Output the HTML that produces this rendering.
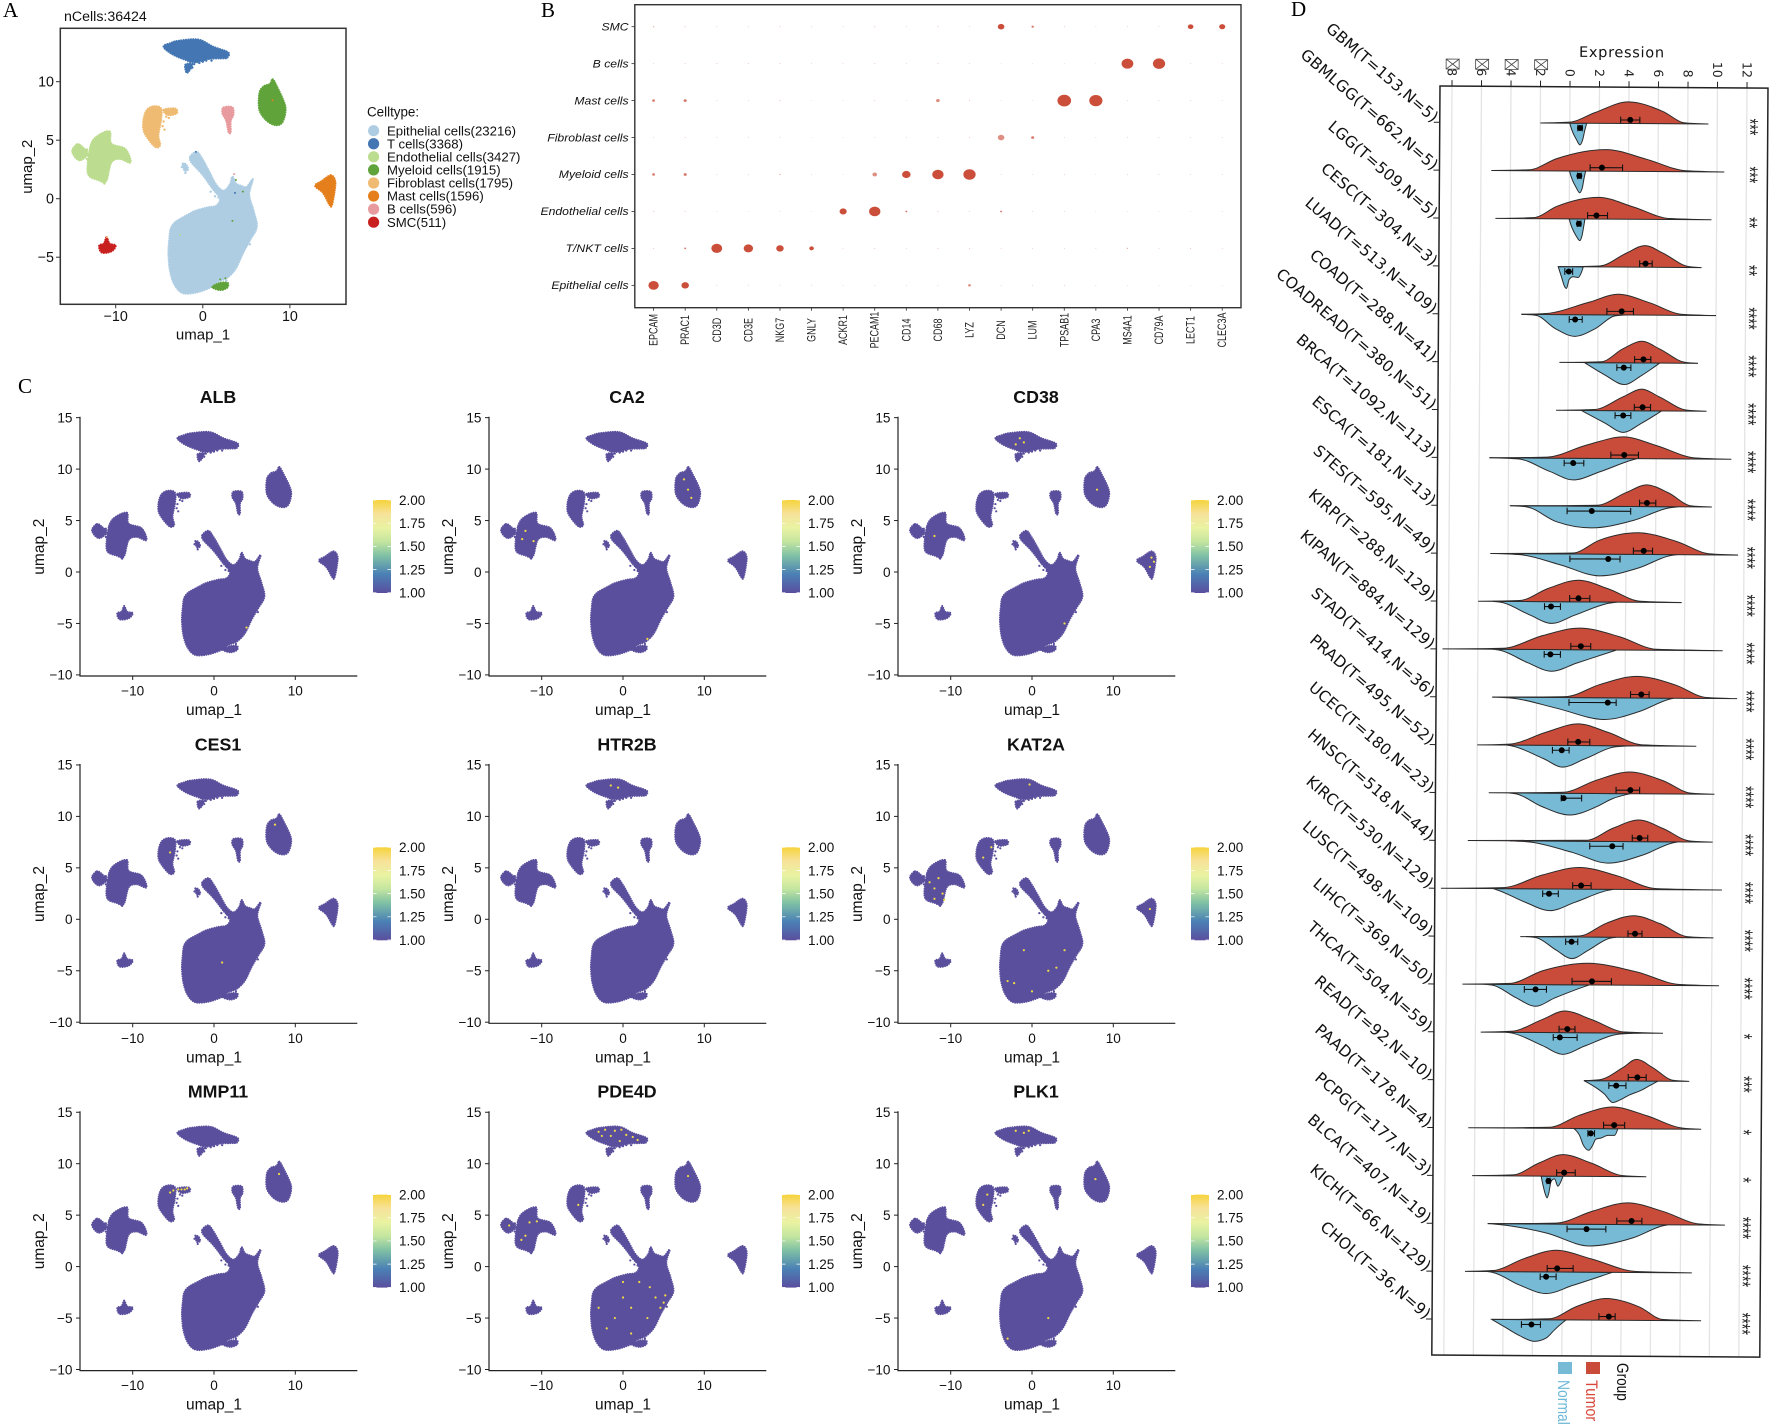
<!DOCTYPE html>
<html lang="en">
<head>
<meta charset="utf-8">
<title>Single-cell UMAP, marker dot plot and pan-cancer expression figure</title>
<style>
html,body{margin:0;padding:0;background:#fff}
svg{display:block;font-family:"Liberation Sans",sans-serif}
.serif{font-family:"Liberation Serif",serif}
.dj{font-family:"DejaVu Sans",sans-serif}
</style>
</head>
<body>
<svg id="fig" xmlns="http://www.w3.org/2000/svg" width="1772" height="1428" viewBox="0 0 1772 1428">
<defs>
<linearGradient id="cbar" x1="0" y1="1" x2="0" y2="0">
<stop offset="0" stop-color="#5a4e9e"/><stop offset=".2" stop-color="#4a80b5"/><stop offset=".4" stop-color="#7fc0a5"/><stop offset=".55" stop-color="#c3e5a0"/><stop offset=".7" stop-color="#e9f3a2"/><stop offset=".85" stop-color="#f7e29a"/><stop offset="1" stop-color="#f6d33c"/>
</linearGradient>
</defs>
<rect x="0" y="0" width="1772" height="1428" fill="#fff"/>
<text class="serif" x="3" y="17" font-size="21">A</text>
<text class="serif" x="541" y="17" font-size="21">B</text>
<text class="serif" x="18" y="393" font-size="21">C</text>
<text class="serif" x="1291" y="16" font-size="21">D</text>
<g id="panelA"></g>
<g id="panelB"></g>
<g id="panelC"></g>
<g id="panelD" transform="translate(1440 86) rotate(0.37)"></g>
<g id="legendD">
<text transform="translate(1617 1363) rotate(90) scale(.8 1)" font-size="17" fill="#111">Group</text>
<rect x="1586" y="1362" width="14" height="12" fill="#c94c3a"/>
<text transform="translate(1586 1380) rotate(90) scale(.85 1)" font-size="17" fill="#d9473a">Tumor</text>
<rect x="1558" y="1362" width="14" height="12" fill="#77bad6"/>
<text transform="translate(1558 1380) rotate(90) scale(.82 1)" font-size="17" fill="#6db8d8">Normal</text>
</g>
</svg>
<script>
/* ---------- UMAP cluster outlines (umap_1, umap_2) ---------- */
const epithelialOutline=[[-1.43,3.6],[-0.7,4.0],[-0.08,3.43],[0.74,2.3],[1.56,1.17],[2.4,0.68],[3.1,1.2],[3.4,1.88],[3.8,1.3],[4.4,1.1],[5.04,1.0],[5.74,1.65],[5.33,0.36],[5.86,-1.1],[6.2,-2.4],[5.45,-3.5],[4.6,-4.66],[3.8,-5.95],[2.8,-6.75],[1.7,-7.1],[1.1,-7.5],[0,-7.85],[-1,-8.05],[-2.1,-8.1],[-2.8,-7.8],[-3.4,-7.1],[-3.8,-6],[-3.95,-4.66],[-3.85,-3.5],[-3.7,-2.6],[-3.3,-2.1],[-2.75,-1.8],[-1.8,-1.4],[-0.9,-1.05],[0.5,-0.75],[1.56,-0.6],[1.97,0.03],[1.15,0.84],[-0.08,2.1],[-1.3,3.1]];
const epithelialSatellite=[[-2.3,3.0],[-1.9,2.9],[-1.7,2.5],[-2.1,2.4]];
const tCellOutline=[[-4.5,13.0],[-3.7,13.3],[-2.75,13.5],[-0.5,13.6],[1.15,13.0],[2.9,12.5],[2.8,12.05],[2.4,12.0],[0.74,11.95],[-0.9,11.65],[-2.1,11.9],[-3.6,12.4]];
const tCellTail=[[-2.0,11.45],[-1.2,11.5],[-1.6,10.9],[-1.9,10.8]];
const myeloidOutline=[[8.03,10.2],[8.5,9.6],[9.3,8.3],[9.5,7.5],[9.1,6.5],[8.3,6.3],[7.3,6.7],[6.5,7.6],[6.5,9.0],[7.0,9.6],[7.7,9.8]];
const myeloidCrescent=[[1.1,-7.55],[2.0,-7.2],[2.85,-7.2],[2.8,-7.6],[2.0,-7.8]];
const fibroblastOutline=[[-5.6,7.9],[-4.8,7.7],[-4.8,6.7],[-5.1,5.4],[-4.9,4.6],[-5.4,4.4],[-6.2,5.05],[-6.8,5.85],[-6.8,6.8],[-6.4,7.6]];
const fibroblastArm=[[-4.5,7.6],[-3.15,7.7],[-3.0,7.3],[-4,7.15]];
const bCellOutline=[[2.4,7.8],[3.4,7.8],[3.5,7.15],[3.2,6.65],[3.2,5.7],[2.95,5.7],[2.7,6.65],[2.25,7.3]];
const endothelialOutline=[[-10.7,5.75],[-10.5,4.7],[-8.9,4.25],[-8.3,3.1],[-9.5,3.4],[-10.5,3.1],[-11.1,1.5],[-12,1.6],[-13.1,2],[-13.2,3.1],[-12.8,4.7],[-12,5.4]];
const endothelialLobe=[[-14.4,4.66],[-13.8,4.4],[-13.2,3.85],[-14,3.3],[-14.6,3.5],[-15,4.1]];
const mastOutline=[[14.7,2],[15.2,1.5],[15.1,.5],[14.8,-.6],[14.5,-.45],[13.8,.5],[12.9,1.1],[13.65,1.5]];
const smcOutline=[[-11.05,-3.3],[-10.7,-3.85],[-10,-4],[-10.5,-4.5],[-11.6,-4.6],[-11.9,-4],[-11.35,-3.85]];

const clusterNames=['epithelial','epithelial-satellite','t-cells','t-cells-tail','myeloid','myeloid-crescent','fibroblast','fibroblast-arm','b-cells','endothelial','endothelial-lobe','mast','smc'];
const clusterShapes=[epithelialOutline,epithelialSatellite,tCellOutline,tCellTail,myeloidOutline,myeloidCrescent,fibroblastOutline,fibroblastArm,bCellOutline,endothelialOutline,endothelialLobe,mastOutline,smcOutline];
const clusterColors=['#aecde3','#aecde3','#4376b3','#4376b3','#5fa33a','#5fa33a','#efbb72','#efbb72','#e89b9e','#bcdc8f','#bcdc8f','#e47f1c','#c8201f'];

const strayEpithelial=[[1.2,.9],[1.6,.5],[1.9,.7],[1.4,.2],[2.2,.4],[.9,.6],[1.8,.1],[-2.4,2.7],[-2,2.2],[2.7,-7],[5.4,-3.9]];
const strayEndothelial=[[-13.3,4.2],[-13.1,3.7],[-13.3,3.4],[-12.9,4.4],[-11.3,1.3],[-9.8,3.7]];
const strayFibroblast=[[-4.6,6.2],[-4.4,5.9],[-4.5,6.6],[-4.2,7.0],[-3.9,6.9]];
const strayTCells=[[-1.0,11.5],[0,11.7],[-0.4,11.6],[0.4,11.8],[-1.2,11.2],[1,11.8]];
const strayGroups=[strayEpithelial,strayEndothelial,strayFibroblast,strayTCells];
const strayColors=['#aecde3','#bcdc8f','#efbb72','#4376b3'];

const mixedCells=[[3.6,2.1],[3.8,1.6],[3.7,0.5],[4.6,.6],[3.4,-1.9],[-2.6,-3.1],[-0.8,4],[8,8.4],[-11,-3.3],[2,-6.9],[2.6,-6.8]];
const mixedColors=['#e89b9e','#5fa33a','#4376b3','#5fa33a','#5fa33a','#bcdc8f','#4376b3','#e47f1c','#efbb72','#5fa33a','#5fa33a'];

const legendTypes=['Epithelial cells(23216)','T cells(3368)','Endothelial cells(3427)','Myeloid cells(1915)','Fibroblast cells(1795)','Mast cells(1596)','B cells(596)','SMC(511)'];
const legendColors=['#aecde3','#4376b3','#bcdc8f','#5fa33a','#efbb72','#e47f1c','#e89b9e','#c8201f'];
const umapATicksX=[-10,0,10];
const umapATicksY=[-5,0,5,10];

/* ---------- Panel B dot plot ---------- */
const dotGenes=['EPCAM','PRAC1','CD3D','CD3E','NKG7','GNLY','ACKR1','PECAM1','CD14','CD68','LYZ','DCN','LUM','TPSAB1','CPA3','MS4A1','CD79A','LECT1','CLEC3A'];
const dotCellTypes=['SMC','B cells','Mast cells','Fibroblast cells','Myeloid cells','Endothelial cells','T/NKT cells','Epithelial cells'];
const dotSMC=[1,.5,.4,.4,.5,.4,.4,.5,.4,.5,.4,22,3,.5,.4,.4,.4,16,19];
const dotB=[.4,.5,.5,.5,.5,.4,.4,.5,.4,.5,.4,.3,.3,.3,.3,71,77,.4,.4];
const dotMast=[4,5,.4,.4,.5,.3,.3,.5,.3,7,.5,.3,.3,95,89,.4,.4,.4,.4];
const dotFibroblast=[.4,.5,.4,.4,.4,.3,.3,.4,.4,.4,.5,22,5,.4,.4,.4,.4,.4,.4];
const dotMyeloid=[4,5,.4,.4,1,.3,.3,11,37,65,77,.4,.3,.5,.3,.4,.4,.4,.4];
const dotEndothelial=[.5,.5,.3,.3,.4,.3,26,65,2,.5,.4,2,.4,.4,.3,.3,.3,.3,.4];
const dotTNKT=[.5,2,60,45,29,11,.4,.5,.4,.5,.5,.4,.4,.4,.4,1,.4,.5,.4];
const dotEpithelial=[55,29,.4,.4,.4,.4,.4,.4,.4,.4,4,.4,.4,.5,.4,.3,.3,.3,.3];
const dotMatrix=[dotSMC,dotB,dotMast,dotFibroblast,dotMyeloid,dotEndothelial,dotTNKT,dotEpithelial];
const paleDotCells=['Fibroblast cells','Myeloid cells','Mast cells','Epithelial cells'];
const paleDotGenes=['DCN','PECAM1','CD68','LYZ'];

/* ---------- Panel C gene panels ---------- */
const geneNames=['ALB','CA2','CD38','CES1','HTR2B','KAT2A','MMP11','PDE4D','PLK1'];
const specksALB=[[4,-5.4]];
const specksCA2=[[-11,3],[-12,4],[-12.4,3.2],[8,8],[7.5,9],[3,-6.5],[8.4,7.2]];
const specksCD38=[[-1.5,13],[-1,12.6],[-2,12.4],[15,1],[14.5,0.5],[4,-5],[8,8],[-12,3.5],[14.7,1.4]];
const specksCES1=[[1,-4.2],[7.5,9.2],[-5.4,6.5]];
const specksHTR2B=[[-1.5,13],[-0.6,12.8]];
const specksKAT2A=[[-12,3],[-11,2.5],[-11.5,4],[-12,2],[-10.8,1.9],[-12.6,3.6],[-5,7],[-6,6],[-3,-6],[2,-5],[3,-4.7],[0,-7],[-1,-3],[14.5,1],[-0.3,13.1],[-2.2,-6.2],[4,-3]];
const specksMMP11=[[-5,7.4],[-4.4,7.5],[-4,7.5],[-3.6,7.5],[-3.3,7.6],[-5.4,7.2],[8,9]];
const specksPDE4D=[[-3,13.1],[-2.2,13.3],[-1.5,12.7],[-1,13.2],[-0.2,13.3],[0.4,12.8],[1.2,12.6],[-2.6,12.7],[-0.4,12.2],[1.8,12.3],[-12,3],[-11.5,4.3],[-12.5,2.6],[-14,4],[-10.6,4.4],[-5.5,6],[8,8.8],[3.3,-2],[4,-3],[5,-3.5],[5.2,-2.8],[2,-1.5],[0,-3],[-1,-5],[-2,-6],[1,-6.5],[3,-5],[4.6,-4],[1,-4],[-3,-4],[0,-1.5]];
const specksPLK1=[[-1,13],[-2,13.2],[-0.4,13.2],[-6,6],[-5.5,7],[-3,-7],[2,-5],[7.8,8.5]];
const geneSpecks=[specksALB,specksCA2,specksCD38,specksCES1,specksHTR2B,specksKAT2A,specksMMP11,specksPDE4D,specksPLK1];
const umapCTicksX=[-10,0,10];
const umapCTicksY=[-10,-5,0,5,10,15];
const colorbarTicks=[1,1.25,1.5,1.75,2];

/* ---------- Panel D split violins ---------- */
const cancerLabels=['GBM(T=153,N=5)','GBMLGG(T=662,N=5)','LGG(T=509,N=5)','CESC(T=304,N=3)','LUAD(T=513,N=109)','COAD(T=288,N=41)','COADREAD(T=380,N=51)','BRCA(T=1092,N=113)','ESCA(T=181,N=13)','STES(T=595,N=49)','KIRP(T=288,N=129)','KIPAN(T=884,N=129)','STAD(T=414,N=36)','PRAD(T=495,N=52)','UCEC(T=180,N=23)','HNSC(T=518,N=44)','KIRC(T=530,N=129)','LUSC(T=498,N=109)','LIHC(T=369,N=50)','THCA(T=504,N=59)','READ(T=92,N=10)','PAAD(T=178,N=4)','PCPG(T=177,N=3)','BLCA(T=407,N=19)','KICH(T=66,N=129)','CHOL(T=36,N=9)'];
const significance=['***','***','**','**','****','****','****','****','****','****','****','****','****','****','****','****','****','****','****','*','***','*','*','****','****','****'];
const expressionTicks=[-8,-6,-4,-2,0,2,4,6,8,10,12];
const tumorX=[
[-2,0,1.7,3.97,6.3,7.8,9.4],[-5.3,-2.7,-.87,2.5,5.2,7.9,10.5],[-5,-2.4,-.85,2,4.35,6.8,9.65],[-.7,2.1,3.9,5.15,6.4,8.1,9],
[-3.2,-1.5,1.35,3.37,5.5,7.7,10],[-.6,2.25,3.7,5,6.2,7.9,8.8],[-.8,1.8,3.75,5,6.2,8.05,9.4],[-5.3,-1.4,1.3,3.8,6,8.7,11.1],
[-3.9,2,4,5.37,6.84,8.4,9.8],[-5.2,.4,2.2,4.8,7.4,9.7,11.6],[-6,-3.2,-1.25,.8,2.8,5,7.8],[-8.4,-4.3,-1.6,.9,3.6,6.1,10.6],
[-5,0,2.3,4.8,7.4,9.5,11.6],[-6,-3.8,-1.3,.84,2.87,5.2,8.85],[-5.2,-.16,2.1,4.35,6.6,8.5,10.1],[-6.6,1.43,3.25,5,6.63,8.45,10],
[-8.4,-4.2,-1.5,1,3.6,6.2,10.65],[-3,1,2.84,4.7,6.45,8.37,10.1],[-6.9,-3.7,-1.44,1.6,4.9,7.83,10.5],[-5.64,-3.57,-1.42,.05,1.86,4.12,6.72],
[1.38,2.44,4.02,4.93,6.05,7.41,8.52],[-6.44,-.93,1.1,3.36,5.63,8.1,9.35],[-6.16,-3.4,-1.59,0,1.92,4.06,5.65],[-5.08,-.44,2.05,4.42,6.8,9.28,11],
[-6.6,-4.7,-2.57,-.42,1.95,5,8.78],[-4.76,-.85,.96,3,5.25,6.83,9.43]];
const tumorD=[
[0,3,32,65,37,3,0],[0,3,37,65,37,3,0],[0,3,37,65,37,3,0],[0,3,42,65,42,3,0],
[0,3,37,62,37,3,0],[0,3,42,65,42,3,0],[0,3,42,65,42,3,0],[0,3,40,65,40,3,0],
[0,3,42,65,42,3,0],[0,3,42,65,40,3,0],[0,3,40,65,40,3,0],[0,3,42,65,40,3,0],
[0,3,40,65,40,3,0],[0,3,40,65,40,3,0],[0,3,40,65,40,3,0],[0,3,40,65,40,3,0],
[0,3,42,65,40,3,0],[0,3,42,65,42,3,0],[0,3,42,65,40,3,0],[0,3,40,65,40,3,0],
[0,3,40,65,40,3,0],[0,3,40,65,40,3,0],[0,3,40,65,40,3,0],[0,3,40,65,40,3,0],
[0,3,40,65,40,3,0],[0,3,40,65,40,3,0]];
const normalX=[
[0,.14,.47,.7,.88,1.03,1.15],[0,.14,.47,.7,.88,1,1.1],[0,.14,.47,.73,.88,1,1.07],[-.72,-.5,-.27,-.15,.03,.3,.64,.87,.98],
[-3.2,-2.2,-.9,.43,1.8,3.15,3.9],[1.1,2.5,3.8,5,6.2],[.9,2.5,3.75,5,6.35],[-5.3,-3.35,-1.2,.4,2.2,4.45,4.7],
[-3.85,-2.77,-.73,1.64,4.47,6.95,7.5],[-5,-3.2,-.5,2.2,4.9,7,7.5],[-5,-4.4,-2.5,-1,.55,2.9,3.4],[-5,-4.5,-2.6,-1,.7,3.2,3.4],
[-5,-3.6,-.65,2.6,5,7,7.3],[-4,-3.6,-1.5,-.2,1.3,3.4,4.56],[-3.8,-3.3,-1.6,.3,2.1,3.2,4.1,4.4],[-3.75,-2.4,.53,2.9,5.28,7.3,7.65],
[-4.9,-4.65,-2.7,-1,.67,2.93,3.3],[-2.6,-1.9,-.55,.5,1.6,3.06,3.5],[-5.46,-4.8,-3.25,-1.94,-.65,1.5,1.7],[-3.9,-3.45,-1.42,-.06,1.4,3.8,5.25],
[1.38,2.1,2.78,3.34,3.8,4.47,5.26,5.83,6.4],[.72,1.1,1.37,1.74,2,2.2,2.57,3.03,3.48,3.7],[-1.48,-1.36,-1.18,-1.07,-.95,-.8,-.57,-.34,-.18,0],[-5.08,-4.17,-1.1,1.82,4.76,6.8,7.13],
[-5.17,-4.7,-2.9,-1.1,.71,3.2,3.4],[-4.76,-3.9,-2.88,-1.87,-1.07,-.5,.05,.28]];
const normalD=[
[0,20,50,65,50,20,0],[0,20,50,65,50,20,0],[0,20,50,65,50,20,0],[0,30,60,65,38,30,32,15,0],
[0,3,42,65,42,3,0],[0,37,65,37,0],[0,37,65,37,0],[0,3,40,65,40,3,0],
[0,3,47,65,42,3,0],[0,3,32,65,40,3,0],[0,3,40,65,40,3,0],[0,3,40,65,40,3,0],
[0,3,32,65,40,3,0],[0,3,40,65,40,3,0],[0,3,40,65,40,15,3,0],[0,3,34,65,40,3,0],
[0,3,40,65,40,3,0],[0,3,40,65,40,3,0],[0,3,40,65,40,3,0],[0,3,40,65,40,3,0],
[0,18,40,65,58,42,28,14,0],[0,20,50,65,50,32,28,20,20,0],[0,25,55,65,50,15,8,30,20,0],[0,3,27,65,40,3,0],
[0,3,40,65,40,3,0],[0,22,48,65,55,30,8,0]];
const tumorMean=[4.1,2.2,1.85,5.2,3.6,5.1,5.06,3.84,5.4,5.2,.8,.98,5.1,.84,4.4,5.05,1.1,4.78,1.88,.23,5,3.45,.08,4.67,-.35,3.17];
const tumorLow=[3.45,1.4,1.25,4.8,2.6,4.5,4.5,2.93,4.9,4.5,.2,.3,4.37,.14,3.43,4.55,.53,4.3,.53,-.33,4.38,2.73,-.43,3.67,-1.03,2.5];
const tumorHigh=[4.75,3.6,2.6,5.65,4.4,5.6,5.6,4.8,6,5.8,1.57,1.65,5.63,1.63,5.03,5.6,1.78,5.25,3.2,.75,5.6,4.16,.83,5.37,.73,3.6];
const normalMean=[.7,.67,.66,0,.45,3.77,3.75,.38,1.66,2.8,-1.06,-1.08,2.83,-.27,-.12,3.2,-1.07,.48,-1.94,-.27,3.57,1.87,-.98,1.62,-1.1,-2.07];
const normalLow=[.55,.55,.55,-.27,.05,3.3,3.2,-.23,-.01,.2,-1.5,-1.5,.2,-.9,-.28,1.67,-1.5,.08,-2.7,-.72,3.07,1.67,-1.08,.3,-1.5,-2.75];
const normalHigh=[.85,.8,.8,.26,.93,4.25,4.27,1.1,4.3,3.6,-.42,-.4,3.4,.23,1.1,3.93,-.44,.9,-1.2,.9,4.23,2.12,-.88,2.93,-.42,-1.46];

/* ---------- helpers ---------- */
const NS='http://www.w3.org/2000/svg';
function make(tag,geom,parent){
  const e=document.createElementNS(NS,tag);
  for(const k in geom){e.setAttribute(k,geom[k]);}
  parent.appendChild(e);
  return e;
}
function fmtTick(v){return v<0?'\u2212'+Math.abs(v):String(v);}
function smoothClosed(pts,fx,fy){
  const p=pts.map(q=>[fx(q[0]),fy(q[1])]),n=p.length;
  let d='M'+p[0][0].toFixed(1)+' '+p[0][1].toFixed(1);
  for(let i=0;i<n;i++){
    const a=p[(i-1+n)%n],b=p[i],c=p[(i+1)%n],e=p[(i+2)%n];
    d+='C'+(b[0]+(c[0]-a[0])/6).toFixed(1)+' '+(b[1]+(c[1]-a[1])/6).toFixed(1)+' '+(c[0]-(e[0]-b[0])/6).toFixed(1)+' '+(c[1]-(e[1]-b[1])/6).toFixed(1)+' '+c[0].toFixed(1)+' '+c[1].toFixed(1);
  }
  return d+'Z';
}
function monoPath(xs,ys){
  const n=xs.length,m=[],t=[];
  for(let i=0;i<n-1;i++){m.push((ys[i+1]-ys[i])/(xs[i+1]-xs[i]));}
  for(let i=1;i<n-1;i++){
    const h0=xs[i]-xs[i-1],h1=xs[i+1]-xs[i],s=(h0*m[i]+h1*m[i-1])/(h0+h1);
    t[i]=(Math.sign(m[i-1])+Math.sign(m[i]))*Math.min(Math.abs(m[i-1]),Math.abs(m[i]),.5*Math.abs(s));
  }
  t[0]=(3*m[0]-t[1])/2;
  t[n-1]=(3*m[n-2]-t[n-2])/2;
  let d='M'+xs[0].toFixed(2)+' '+ys[0].toFixed(2);
  for(let i=0;i<n-1;i++){
    const dx=(xs[i+1]-xs[i])/3;
    d+='C'+(xs[i]+dx).toFixed(2)+' '+(ys[i]+dx*t[i]).toFixed(2)+' '+(xs[i+1]-dx).toFixed(2)+' '+(ys[i+1]-dx*t[i+1]).toFixed(2)+' '+xs[i+1].toFixed(2)+' '+ys[i+1].toFixed(2);
  }
  return d+'Z';
}

/* ---------- Panel A ---------- */
(function(){
  const g=document.getElementById('panelA');
  const x=v=>202.8+8.71*v, y=v=>198.7-11.7*v;
  clusterShapes.forEach((shape,i)=>{
    const p=make('path',{d:smoothClosed(shape,x,y),fill:clusterColors[i],stroke:clusterColors[i],'stroke-width':2.2,'stroke-linecap':'round','stroke-dasharray':'0.1 2.3'},g);
    
    
  });
  strayGroups.forEach((grp,k)=>{
    grp.forEach(s=>{
      const c=make('circle',{cx:x(s[0]),cy:y(s[1]),r:1.2,fill:strayColors[k]},g);
      
      
    });
  });
  mixedCells.forEach((s,k)=>{
    const c=make('circle',{cx:x(s[0]),cy:y(s[1]),r:1,fill:mixedColors[k]},g);
    
    
  });
  const frame=make('rect',{x:60.3,y:28.3,width:285.7,height:276,fill:'none',stroke:'#333','stroke-width':1.5},g);
  
  
  umapATicksX.forEach(v=>{
    const l=make('line',{x1:x(v),x2:x(v),y1:304.3,y2:308.3,stroke:'#333','stroke-width':1},g);
    
    
    const t=make('text',{x:x(v),y:321,'text-anchor':'middle','font-size':14.3,fill:'#111'},g);
    t.textContent=fmtTick(v);
    
    
  });
  umapATicksY.forEach(v=>{
    const l=make('line',{x1:56,x2:60.3,y1:y(v),y2:y(v),stroke:'#333','stroke-width':1},g);
    
    
    const t=make('text',{x:54,y:y(v)+5,'text-anchor':'end','font-size':14.3,fill:'#111'},g);
    t.textContent=fmtTick(v);
    
    
  });
  const title=make('text',{x:64,y:21,'font-size':14.2,fill:'#111'},g);
  title.textContent='nCells:36424';
  
  
  const xl=make('text',{x:203,y:339.5,'text-anchor':'middle','font-size':15,fill:'#111'},g);
  xl.textContent='umap_1';
  
  
  const yl=make('text',{transform:'translate(32 166.7) rotate(-90)','text-anchor':'middle','font-size':15,fill:'#111'},g);
  yl.textContent='umap_2';
  
  
  const lt=make('text',{x:367,y:116.5,'font-size':13.4,fill:'#111'},g);
  lt.textContent='Celltype:';
  
  
  legendTypes.forEach((name,i)=>{
    const cy=130.7+13.07*i;
    const c=make('circle',{cx:373.6,cy:cy,r:5.6,fill:legendColors[i]},g);
    
    
    const t=make('text',{x:387,y:cy+4.6,'font-size':13.2,fill:'#111'},g);
    t.textContent=name;
    
    
  });
})();

/* ---------- Panel B ---------- */
(function(){
  const g=document.getElementById('panelB');
  const x=i=>653.6+31.59*i, y=i=>26.7+36.95*i, r=p=>0.7*Math.sqrt(p);
  const frame=make('rect',{x:634.8,y:4.7,width:606.2,height:303,fill:'none',stroke:'#333','stroke-width':1.4},g);
  
  
  dotCellTypes.forEach((name,ri)=>{
    const l=make('line',{x1:631.5,x2:634.8,y1:y(ri),y2:y(ri),stroke:'#333','stroke-width':.8},g);
    
    
    const t=make('text',{transform:'translate(628.6 '+(y(ri)+3.7)+') scale(1.14 1)','text-anchor':'end','font-size':10.7,'font-style':'italic',fill:'#111'},g);
    t.textContent=name;
    
    
    dotGenes.forEach((gene,ci)=>{
      const v=dotMatrix[ri][ci];
      let pale=false;
      paleDotCells.forEach((c,k)=>{if(c===name&&paleDotGenes[k]===gene){pale=true;}});
      const a=pale?.6:(v<1.5?.45:v<8?.72:.95);
      const d=make('ellipse',{cx:x(ci),cy:y(ri),rx:r(v).toFixed(2),ry:(r(v)*.85).toFixed(2),fill:'#c8442f','fill-opacity':a},g);
      
      
    });
  });
  dotGenes.forEach((gene,ci)=>{
    const l=make('line',{x1:x(ci),x2:x(ci),y1:307.7,y2:310.7,stroke:'#333','stroke-width':.8},g);
    
    
    const t=make('text',{transform:'translate('+(x(ci)+4)+' 330) rotate(-90) scale(.78 1)','text-anchor':'middle','font-size':11.5,fill:'#222'},g);
    t.textContent=gene;
    
    
  });
})();

/* ---------- Panel C ---------- */
(function(){
  const root=document.getElementById('panelC');
  geneNames.forEach((gene,idx)=>{
    const col=idx%3,row=Math.floor(idx/3);
    const ox=col*409,oy=row*347.3;
    const g=make('g',{transform:'translate('+ox+' '+oy+')'},root);
    
    
    const x=v=>214+8.13*v,y=v=>572-10.29*v;
    clusterShapes.forEach((shape,i)=>{
      const p=make('path',{d:smoothClosed(shape,x,y),fill:'#5a4f9c',stroke:'#5a4f9c','stroke-width':2,'stroke-linecap':'round','stroke-dasharray':'0.1 2.2'},g);
      
      
    });
    strayGroups.forEach(grp=>{
      grp.forEach(s=>{
        const c=make('circle',{cx:x(s[0]),cy:y(s[1]),r:1.1,fill:'#5a4f9c'},g);
        
        
      });
    });
    geneSpecks[idx].forEach(s=>{
      const c=make('circle',{cx:x(s[0]),cy:y(s[1]),r:1.1,fill:'#f3dc45'},g);
      
      
    });
    const ax=make('path',{d:'M80 416.7V676H357.3',fill:'none',stroke:'#222','stroke-width':1.2},g);
    
    
    umapCTicksX.forEach(v=>{
      const l=make('line',{x1:x(v),x2:x(v),y1:676,y2:680,stroke:'#222','stroke-width':1},g);
      
      
      const t=make('text',{x:x(v),y:695.5,'text-anchor':'middle','font-size':13.6,fill:'#111'},g);
      t.textContent=fmtTick(v);
      
      
    });
    umapCTicksY.forEach(v=>{
      const l=make('line',{x1:76,x2:80,y1:y(v),y2:y(v),stroke:'#222','stroke-width':1},g);
      
      
      const t=make('text',{x:72.5,y:y(v)+4.8,'text-anchor':'end','font-size':13.6,fill:'#111'},g);
      t.textContent=fmtTick(v);
      
      
    });
    const tt=make('text',{x:218,y:403,'text-anchor':'middle','font-size':17.8,'font-weight':'bold',fill:'#111'},g);
    tt.textContent=gene;
    
    
    const xl=make('text',{x:214,y:715,'text-anchor':'middle','font-size':15.5,fill:'#111'},g);
    xl.textContent='umap_1';
    
    
    const yl=make('text',{transform:'translate(44 546.7) rotate(-90)','text-anchor':'middle','font-size':15.5,fill:'#111'},g);
    yl.textContent='umap_2';
    
    
    const cb=make('rect',{x:373,y:500,width:18,height:93,fill:'url(#cbar)'},g);
    
    
    const cby=v=>592.7-(v-1)*92.7;
    colorbarTicks.forEach(v=>{
      const l=make('path',{d:'M373 '+cby(v)+'h3.5M387.5 '+cby(v)+'h3.5',stroke:'#fff','stroke-width':.7},g);
      
      
      const t=make('text',{x:399,y:cby(v)+4.8,'font-size':13.5,fill:'#111'},g);
      t.textContent=v.toFixed(2);
      
      
    });
  });
})();

/* ---------- Panel D ---------- */
(function(){
  const g=document.getElementById('panelD');
  const W=328,H=1269;
  const x=v=>130+14.75*v, rowY=i=>36.3+47.87*i, dh=d=>d/3;
  expressionTicks.forEach(v=>{
    const gl=make('line',{x1:x(v),x2:x(v),y1:0,y2:H,stroke:'#e4e4e4','stroke-width':1.3},g);
    
    
    const tk=make('line',{x1:x(v),x2:x(v),y1:-6,y2:0,stroke:'#222','stroke-width':1},g);
    
    
    const t=make('text',{transform:'translate('+(x(v)-4.5)+' -10) rotate(90)','text-anchor':'end','font-size':12.5,fill:'#222','class':'dj'},g);
    t.textContent=String(Math.abs(v));
    
    
    if(v<0){
      const b=make('path',{d:'M'+(x(v)-6)+' -27h13v10h-13zM'+(x(v)-6)+' -27l13 10M'+(x(v)+7)+' -27l-13 10',fill:'#fff',stroke:'#444','stroke-width':.8},g);
      
      
    }
  });
  const frame=make('rect',{x:0,y:0,width:W,height:H,fill:'none',stroke:'#222','stroke-width':1.5},g);
  
  
  const title=make('text',{x:181.7,y:-30,'text-anchor':'middle','font-size':14.5,'letter-spacing':.7,fill:'#111','class':'dj'},g);
  title.textContent='Expression';
  
  
  function meanBar(cy,m,lo,hi,name){
    const eb=make('path',{d:'M'+x(lo)+' '+cy+'H'+x(hi)+'M'+x(lo)+' '+(cy-3.3)+'v6.6M'+x(hi)+' '+(cy-3.3)+'v6.6',stroke:'#111','stroke-width':1.1,fill:'none'},g);
    
    
    const d=make('circle',{cx:x(m),cy:cy,r:3,fill:'#000'},g);
    
    
  }
  cancerLabels.forEach((label,i)=>{
    const y0=rowY(i);
    const tk=make('line',{x1:-6,x2:0,y1:y0,y2:y0,stroke:'#222','stroke-width':1},g);
    
    
    const t=make('text',{transform:'translate(-7 '+(y0+1)+') rotate(40.5)','text-anchor':'end','font-size':15.6,'letter-spacing':.15,fill:'#111','class':'dj'},g);
    t.textContent=label;
    
    
    const nPath=make('path',{d:monoPath(normalX[i].map(x),normalD[i].map(d=>y0+dh(d))),fill:'#77bad6',stroke:'#2b2b2b','stroke-width':1},g);
    
    
    const tPath=make('path',{d:monoPath(tumorX[i].map(x),tumorD[i].map(d=>y0-dh(d))),fill:'#c94c3a',stroke:'#2b2b2b','stroke-width':1},g);
    
    
    meanBar(y0-3.6,tumorMean[i],tumorLow[i],tumorHigh[i],'tumor');
    meanBar(y0+4.8,normalMean[i],normalLow[i],normalHigh[i],'normal');
    const s=make('text',{transform:'translate(302.5 '+(y0+2.7)+') rotate(90) scale(1 1.6)','text-anchor':'middle','font-size':14.2,fill:'#222'},g);
    s.textContent=significance[i];
    
    
  });
})();
</script>
</body>
</html>
